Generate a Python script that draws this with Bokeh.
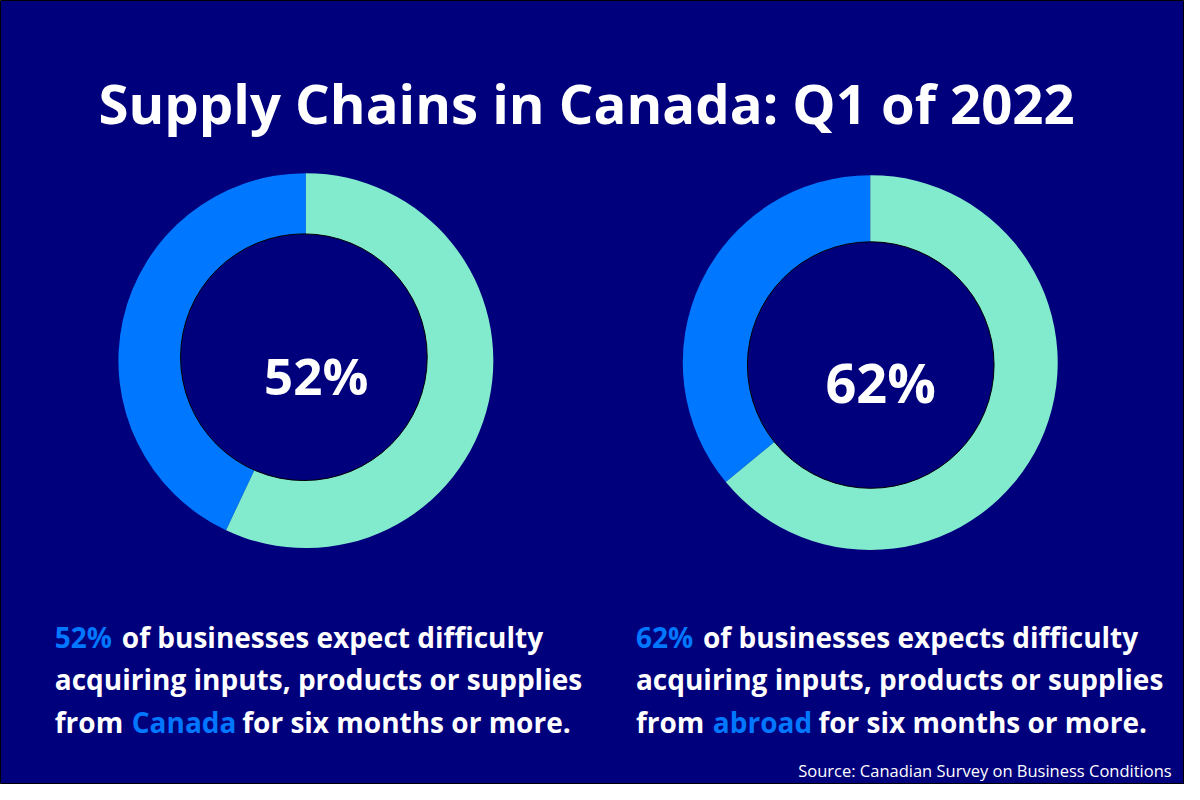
import math
from bokeh.plotting import figure
from bokeh.models import Range1d, ColumnDataSource
from bokeh.core.properties import value
from bokeh.embed import file_html
from bokeh.resources import INLINE

# ---------------- data ----------------
regions = ["Canada", "abroad"]
headline_pct = [52, 62]          # big centre labels
ring_mint = [57, 64]             # mint share of ring
ring_blue = [43, 36]             # blue share of ring

title_text = "Supply Chains in Canada: Q1 of 2022"
source_text = "Source: Canadian Survey on Business Conditions"
line1_rest = ["of businesses expect difficulty", "of businesses expects difficulty"]
line2_text = "acquiring inputs, products or supplies"
line3_rest = "for six months or more."

# ---------------- style ----------------
NAVY = "#00007C"
BLUE = "#0077FF"
MINT = "#82EACD"
WHITE = "#FFFFFF"
FONT = "Open Sans"

W, H = 1184, 784
p = figure(width=W, height=H, x_range=Range1d(0, 1200), y_range=Range1d(-800, 0),
           output_backend="svg", toolbar_location=None, min_border=0)
p.axis.visible = False
p.grid.visible = False
p.outline_line_color = "black"
p.outline_line_width = 1
p.background_fill_color = NAVY
p.border_fill_color = NAVY

# donut layout (reference-pixel coordinates, y negated)
cx = [309.5, 881.5]
cy = [-367.5, -369.5]
outer_r = 190
inner_cx = [307.5, 882]
inner_cy = [-364, -372]
inner_r = 125

xs, ys, starts, ends, colors = [], [], [], [], []
for i in range(len(regions)):
    a0 = math.pi / 2
    a1 = a0 + 2 * math.pi * ring_blue[i] / (ring_blue[i] + ring_mint[i])
    xs += [cx[i], cx[i]]
    ys += [cy[i], cy[i]]
    starts += [a0, a1]
    ends += [a1, a0 + 2 * math.pi]
    colors += [BLUE, MINT]

ring_src = ColumnDataSource(dict(x=xs, y=ys, start=starts, end=ends, color=colors))
p.wedge(x="x", y="y", radius=outer_r, start_angle="start", end_angle="end",
        fill_color="color", line_color=None, source=ring_src)

p.circle(x=inner_cx, y=inner_cy, radius=inner_r, fill_color=NAVY,
         line_color="black", line_width=1)

# centre labels
p.text(x=[320], y=[-382], text=[f"{headline_pct[0]}%"],
       text_font=value(FONT), text_font_style="bold", text_font_size="51px",
       text_color=WHITE, text_align="center", text_baseline="alphabetic")
p.text(x=[892], y=[-389], text=[f"{headline_pct[1]}%"],
       text_font=value(FONT), text_font_style="bold", text_font_size="54px",
       text_color=WHITE, text_align="center", text_baseline="alphabetic")

# title
p.text(x=[594], y=[-105], text=[title_text], text_font=value(FONT),
       text_font_style="bold", text_font_size="54.5px", text_color=WHITE,
       text_align="center", text_baseline="alphabetic")

# body text
col_x = [55, 644]
rest_x = [123, 712]
region_x = [133, 722]
after_x = [245, 829]
base_y = [-649, -692, -736]
body_size = "28px"

def put(x, y, t, c):
    p.text(x=[x], y=[y], text=[t], text_font=value(FONT), text_font_style="bold",
           text_font_size=body_size, text_color=c, text_align="left",
           text_baseline="alphabetic")

for i in range(len(regions)):
    put(col_x[i], base_y[0], f"{headline_pct[i]}%", BLUE)
    put(rest_x[i], base_y[0], line1_rest[i], WHITE)
    put(col_x[i], base_y[1], line2_text, WHITE)
    put(col_x[i], base_y[2], "from", WHITE)
    put(region_x[i], base_y[2], regions[i], BLUE)
    put(after_x[i], base_y[2], line3_rest, WHITE)

# source
p.text(x=[1187], y=[-786], text=[source_text], text_font=value(FONT),
       text_font_size="16.5px", text_color=WHITE, text_align="right",
       text_baseline="alphabetic")

open("out.html", "w").write(file_html(p, INLINE))
